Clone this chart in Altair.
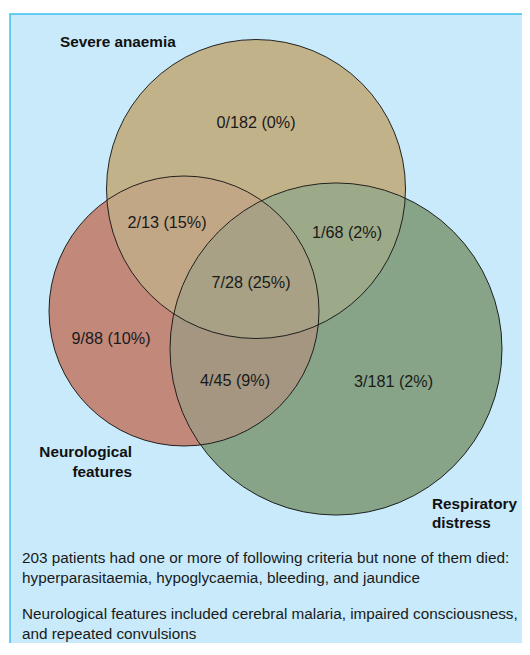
import altair as alt
import pandas as pd

# ---------------- data ----------------
set_names = ["Severe anaemia", "Neurological features", "Respiratory distress"]
set_colors = ["#C2B28A", "#C2887A", "#88A488"]

region_labels = ["0/182 (0%)", "2/13 (15%)", "1/68 (2%)", "7/28 (25%)",
                 "9/88 (10%)", "4/45 (9%)", "3/181 (2%)"]

footnote_lines = [
    "203 patients had one or more of following criteria but none of them died:",
    "hyperparasitaemia, hypoglycaemia, bleeding, and jaundice",
    "Neurological features included cerebral malaria, impaired consciousness,",
    "and repeated convulsions",
]

# ---------------- layout (chart pixels) ----------------
W, H = 514, 635
circle_cx = [248, 176, 328]
circle_cy = [181, 303, 341]
circle_r = [149.5, 135, 166]

region_x = [248, 159, 339, 243, 103, 227, 385.5]
region_y = [115, 215, 225, 275, 331, 373, 374]

FONT = "Liberation Sans, Arial, Helvetica, sans-serif"

circles = pd.DataFrame({
    "name": set_names,
    "cx": circle_cx,
    "cy": circle_cy,
    "size": [4 * r * r for r in circle_r],
    "color": set_colors,
})

X = lambda f: alt.X(f, type="quantitative", scale=alt.Scale(domain=[0, W], range=[0, W]), axis=None)
Y = lambda f: alt.Y(f, type="quantitative", scale=alt.Scale(domain=[0, H], range=[0, H]), axis=None)

box = pd.DataFrame({"x": [2], "y": [6], "x2": [W + 20], "y2": [H + 20]})
bg = alt.Chart(box).mark_rect(fill="#C8EAFA", stroke="#3CC0F0", strokeWidth=1.5).encode(
    x=X("x"), y=Y("y"), x2="x2", y2="y2")


def fill_layer(name, opacity):
    d = circles[circles["name"] == name]
    return alt.Chart(d).mark_point(shape="circle", filled=True, opacity=opacity, strokeWidth=0).encode(
        x=X("cx"), y=Y("cy"),
        size=alt.Size("size:Q", scale=None),
        color=alt.Color("color:N", scale=None))


outline = alt.Chart(circles).mark_point(shape="circle", filled=False, color="#111111",
                                        strokeWidth=0.9, opacity=1).encode(
    x=X("cx"), y=Y("cy"), size=alt.Size("size:Q", scale=None))

regions = pd.DataFrame({"label": region_labels, "x": region_x, "y": region_y})
region_text = alt.Chart(regions).mark_text(font=FONT, fontSize=16.2, color="#1a1a1a",
                                           align="center", baseline="middle").encode(
    x=X("x"), y=Y("y"), text="label:N")

set_left = pd.DataFrame({
    "t": ["Severe anaemia", "Respiratory", "distress"],
    "x": [52, 424, 424],
    "y": [33.5, 496, 515],
})
set_right = pd.DataFrame({
    "t": ["Neurological", "features"],
    "x": [124, 124],
    "y": [444, 464],
})
lab_left = alt.Chart(set_left).mark_text(font=FONT, fontSize=15.3, fontWeight="bold", color="#111111",
                                         align="left", baseline="middle").encode(
    x=X("x"), y=Y("y"), text="t:N")
lab_right = alt.Chart(set_right).mark_text(font=FONT, fontSize=15.3, fontWeight="bold", color="#111111",
                                           align="right", baseline="middle").encode(
    x=X("x"), y=Y("y"), text="t:N")

notes = pd.DataFrame({"t": footnote_lines, "x": [14] * 4, "y": [550, 570, 606, 626]})
note_text = alt.Chart(notes).mark_text(font=FONT, fontSize=15.3, color="#1a1a1a",
                                       align="left", baseline="middle").encode(
    x=X("x"), y=Y("y"), text="t:N")

chart = alt.layer(
    bg,
    fill_layer("Respiratory distress", 1),
    fill_layer("Neurological features", 1),
    fill_layer("Severe anaemia", 1),
    fill_layer("Respiratory distress", 0.75),
    fill_layer("Neurological features", 0.3),
    fill_layer("Severe anaemia", 0.15),
    outline,
    region_text, lab_left, lab_right, note_text,
).properties(
    width=W, height=H, padding=0, autosize=alt.AutoSizeParams(type="none"),
    background="white",
).configure_view(stroke=None)

chart.save("out.html", embed_options={"renderer": "svg", "actions": False})
